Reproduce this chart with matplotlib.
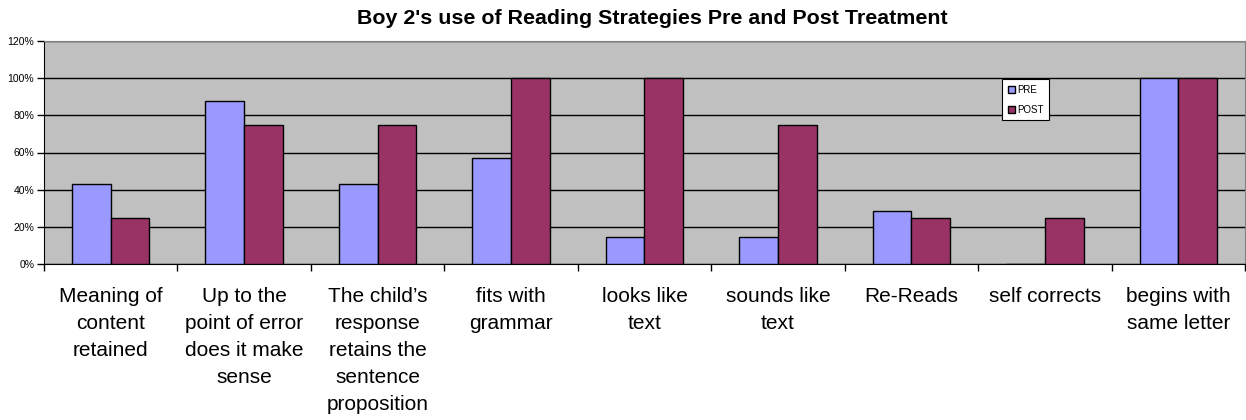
import matplotlib.pyplot as plt
import numpy as np
from matplotlib.ticker import PercentFormatter

plt.rcParams['font.family'] = ['Liberation Sans', 'DejaVu Sans']

categories = [
    "Meaning of\ncontent\nretained",
    "Up to the\npoint of error\ndoes it make\nsense",
    "The child\u2019s\nresponse\nretains the\nsentence\nproposition",
    "fits with\ngrammar",
    "looks like\ntext",
    "sounds like\ntext",
    "Re-Reads",
    "self corrects",
    "begins with\nsame letter",
]
pre = [42.86, 87.5, 42.86, 57.14, 14.29, 14.29, 28.57, 0, 100]
post = [25, 75, 75, 100, 100, 75, 25, 25, 100]

fig = plt.figure(figsize=(12.46, 4.2), dpi=100)
ax = fig.add_axes([44 / 1246, 1 - 264 / 420, 1201 / 1246, 223 / 420])
ax.set_facecolor('#c0c0c0')

x = np.arange(len(categories))
w = 0.29
ax.bar(x - w / 2, pre, w, color='#9999ff', edgecolor='black', linewidth=1, label='PRE', zorder=3)
ax.bar(x + w / 2, post, w, color='#993366', edgecolor='black', linewidth=1, label='POST', zorder=3)

ax.set_xlim(-0.5, len(categories) - 0.5)
ax.set_ylim(0, 120)
ax.set_yticks(range(0, 121, 20))
ax.yaxis.set_major_formatter(PercentFormatter(decimals=0))
ax.grid(axis='y', color='black', linewidth=1, zorder=1)

# category labels between boundary ticks
ax.set_xticks(np.arange(len(categories) + 1) - 0.5)
ax.set_xticklabels([])
ax.set_xticks(x, minor=True)
ax.set_xticklabels(categories, minor=True, fontsize=15, linespacing=1.54)
ax.tick_params(axis='x', which='minor', length=0, pad=16.5)
ax.tick_params(axis='x', which='major', length=5, width=1, color='black')
ax.tick_params(axis='y', length=5, width=1, labelsize=7.5, pad=2)

for side in ['top', 'right']:
    ax.spines[side].set_color('#808080')
for side in ['left', 'bottom']:
    ax.spines[side].set_color('black')

fig.text(652 / 1246, 1 - 18 / 420, "Boy 2's use of Reading Strategies Pre and Post Treatment",
         ha='center', va='center', fontsize=15.4, fontweight='bold')

leg = ax.legend(loc='upper left', bbox_to_anchor=(958 / 1201, 1 - 38 / 223), fontsize=7,
                frameon=True, fancybox=False, edgecolor='black', framealpha=1,
                handlelength=0.75, handleheight=0.75, handletextpad=0.2,
                borderpad=0.6, labelspacing=1.0, borderaxespad=0)
leg.get_frame().set_linewidth(0.8)

fig.savefig('out.png', dpi=100)
